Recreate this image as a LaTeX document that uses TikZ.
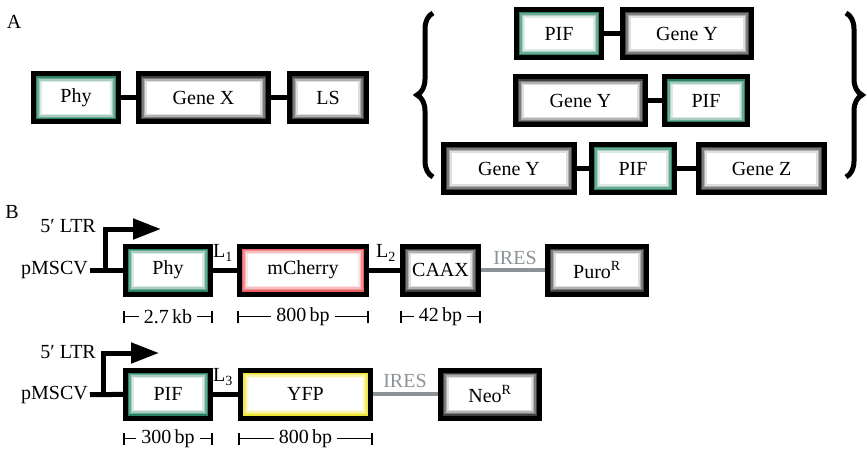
\documentclass[tikz,border=0pt]{standalone}
\usepackage{fontspec}
\setmainfont{Liberation Serif}
\usetikzlibrary{arrows.meta,decorations.pathreplacing}
\definecolor{leafgreen}{RGB}{30,125,90}
\definecolor{shadegray}{RGB}{55,55,55}
\definecolor{cherryred}{RGB}{235,85,90}
\definecolor{yfpyellow}{RGB}{240,228,40}
\definecolor{iresgray}{RGB}{140,146,150}
\newcommand{\partfont}{\fontsize{20}{24}\selectfont}
\tikzset{
    glow/.style={path picture={
        \foreach \d/\o in {3.2/0.95,4.6/0.65,6/0.38,7.4/0.16}
            \draw[#1,line width=1.5pt,opacity=\o]
                ([shift={(\d pt,-\d pt)}]path picture bounding box.north west) rectangle
                ([shift={(-\d pt,\d pt)}]path picture bounding box.south east);
    }},
    part/.style={rectangle,draw=black,fill=white,line width=5pt,minimum height=48pt,inner sep=0pt,font=\partfont},
    greenpart/.style={part,glow=leafgreen},
    graypart/.style={part,glow=shadegray},
    redpart/.style={part,glow=cherryred},
    yellowpart/.style={part,glow=yfpyellow},
    txt/.style={inner sep=2pt,font=\partfont},
    iresname/.style={txt,text=iresgray},
    link/.style={line width=5pt},
    ires/.style={line width=4pt,draw=iresgray},
    promoter/.style={line width=5pt,-{Triangle[length=28pt,width=20pt]}},
    scalebar/.style={line width=1.8pt,{Bar[width=12pt]}-{Bar[width=12pt]}},
    barlabel/.style={fill=white,inner xsep=5pt,inner ysep=0pt,font=\partfont},
    bracket/.style={line width=5pt,decorate,decoration={brace,amplitude=16pt}},
}

\begin{document}
\begin{tikzpicture}[x=1pt,y=-1pt]
	\useasboundingbox (0,0) rectangle (867,449);

	\node[txt] (pa) at (14,22) {A};
	\node[greenpart,minimum width=85pt] (phya) at (76,98) {Phy};
	\node[graypart,minimum width=130pt] (genex) at (203.5,98) {Gene X};
	\node[graypart,minimum width=77pt] (ls) at (328,98) {LS};
	\draw[link] (phya) -- (genex);
	\draw[link] (genex) -- (ls);

	\node[greenpart,minimum width=85pt] (pif1) at (559,33.5) {PIF};
	\node[graypart,minimum width=129pt] (geney1) at (687,33.5) {Gene Y};
	\node[graypart,minimum width=130pt] (geney2) at (580.5,101) {Gene Y};
	\node[greenpart,minimum width=83pt] (pif2) at (706,101) {PIF};
	\node[graypart,minimum width=131pt] (geney3) at (509,168.5) {Gene Y};
	\node[greenpart,minimum width=83pt] (pif3) at (633,168.5) {PIF};
	\node[graypart,minimum width=126pt] (genez) at (761.5,168.5) {Gene Z};
	\draw[link] (pif1) -- (geney1);
	\draw[link] (geney2) -- (pif2);
	\draw[link] (geney3) -- (pif3);
	\draw[link] (pif3) -- (genez);
	\draw[bracket] (433,177) -- (433,13);
	\draw[bracket] (846,13) -- (846,177);

	\node[txt] (pb) at (12,212) {B};
	\node[txt,anchor=east] (pmscv1) at (90,270) {pMSCV};
	\node[txt,anchor=east] (ltr1) at (98,226) {5′ LTR};
	\node[greenpart,minimum width=85pt] (phyb) at (168,270) {Phy};
	\node[redpart,minimum width=127pt] (mcherry) at (303,270) {mCherry};
	\node[graypart,minimum width=76pt] (caax) at (440.5,270) {CAAX};
	\node[graypart,minimum width=99pt] (puro) at (597,270) {Puro\textsuperscript{R}};
	\node[txt] (l1) at (223,253) {L\textsubscript{1}};
	\node[txt] (l2) at (386,253) {L\textsubscript{2}};
	\node[iresname] (ires1) at (515,258) {IRES};
	\coordinate (tss1) at (105,270);
	\coordinate (tip1) at (161,229);
	\draw[link] (pmscv1) -- (phyb);
	\draw[promoter] (tss1) |- (tip1);
	\draw[link] (phyb) -- (mcherry);
	\draw[link] (mcherry) -- (caax);
	\draw[ires] (caax) -- (puro);
	\draw[scalebar] ([yshift=-20pt]phyb.south west) -- ([yshift=-20pt]phyb.south east) node[barlabel,midway] {2.7\,kb};
	\draw[scalebar] ([yshift=-20pt]mcherry.south west) -- ([yshift=-20pt]mcherry.south east) node[barlabel,midway] {800\,bp};
	\draw[scalebar] ([yshift=-20pt]caax.south west) -- ([yshift=-20pt]caax.south east) node[barlabel,midway] {42\,bp};

	\node[txt,anchor=east] (pmscv2) at (90,395) {pMSCV};
	\node[txt,anchor=east] (ltr2) at (98,352) {5′ LTR};
	\node[greenpart,minimum width=85pt] (pif) at (168,394) {PIF};
	\node[yellowpart,minimum width=130pt] (yfp) at (305.5,394) {YFP};
	\node[graypart,minimum width=99pt] (neo) at (490,394) {Neo\textsuperscript{R}};
	\node[txt] (l3) at (223,377) {L\textsubscript{3}};
	\node[iresname] (ires2) at (405,381) {IRES};
	\coordinate (tss2) at (103,395);
	\coordinate (tip2) at (159,353);
	\draw[link] (pmscv2) -- (pif);
	\draw[promoter] (tss2) |- (tip2);
	\draw[link] (pif) -- (yfp);
	\draw[ires] (yfp) -- (neo);
	\draw[scalebar] ([yshift=-18pt]pif.south west) -- ([yshift=-18pt]pif.south east) node[barlabel,midway] {300\,bp};
	\draw[scalebar] ([yshift=-18pt]yfp.south west) -- ([yshift=-18pt]yfp.south east) node[barlabel,midway] {800\,bp};
\end{tikzpicture}
\end{document}
